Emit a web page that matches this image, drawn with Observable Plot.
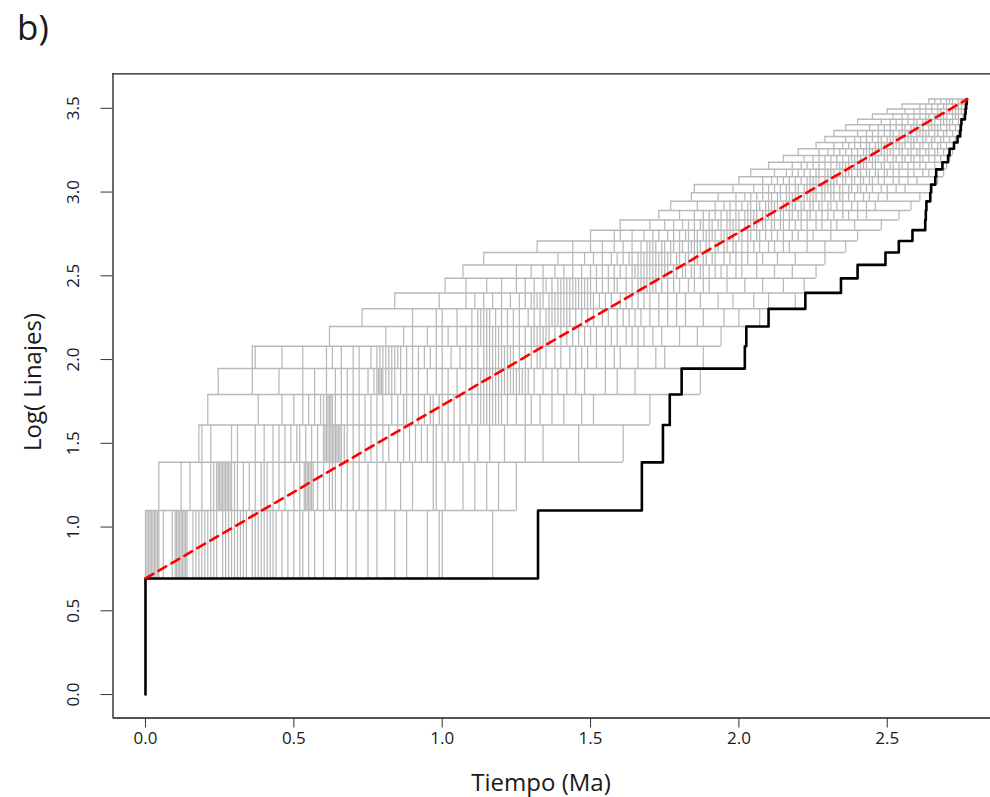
<!DOCTYPE html>
<html>
<head>
<meta charset="utf-8">
<script src="https://cdn.jsdelivr.net/npm/d3@7"></script>
<script src="https://cdn.jsdelivr.net/npm/@observablehq/plot@0.6"></script>
<style>
  body { margin: 0; background: #fff; }
  #chart { position: relative; width: 990px; height: 797px; overflow: hidden; }
</style>
</head>
<body>
<div id="chart"></div>
<script>
// ---- tick labels / axis titles ----
const xTicks = [0, 0.5, 1.0, 1.5, 2.0, 2.5];
const yTicks = [0, 0.5, 1.0, 1.5, 2.0, 2.5, 3.0, 3.5];
const panelLabel = "b)";
const xTitle = "Tiempo (Ma)";
const yTitle = "Log( Linajes)";
const presentTime = 2.77;

// ---- observed LTT (black) ----
const obsLineages = [1,2,3,4,5,6,7,8,9,10,11,12,13,14,15,16,17,18,19,20,21,22,23,24,25,26,27,28,29,30,31,32,33,34,35];
const obsTimes = [0,0,1.323,1.673,1.744,1.767,1.807,2.020,2.025,2.100,2.224,2.344,2.400,2.494,2.539,2.585,2.628,2.630,2.632,2.645,2.648,2.662,2.665,2.686,2.705,2.710,2.725,2.737,2.746,2.748,2.750,2.762,2.764,2.766,2.768];

// ---- expected pure-birth line (red dashed) ----
const expectedTimes = [0, 2.77];
const expectedLineages = [2, 35];

// ---- simulated LTTs (gray): times at which the lineage count rises to each level ----
const simLevels = [3,4,5,6,7,8,9,10,11,12,13,14,15,16,17,18,19,20,21,22,23,24,25,26,27,28,29,30,31,32,33,34,35];
const simTimes = [
  [0.00,0.005,0.01,0.02,0.03,0.04,0.06,0.09,0.10,0.11,0.12,0.13,0.17,0.19,0.21,0.24,0.27,0.29,0.31,0.33,0.36,0.39,0.41,0.43,0.46,0.50,0.53,0.57,0.60,0.64,0.68,0.71,0.75,0.78,0.84,0.88,0.95,0.99,1.00,1.17,
   0.015,0.025,0.035,0.045,0.105,0.115,0.125,0.135,0.14,0.16,0.18,0.20,0.22,0.23,0.26,0.28,0.30,0.32,0.34,0.37,0.38,0.40,0.42,0.44,0.48,0.52,0.55],
  [0.045,0.12,0.15,0.19,0.24,0.25,0.26,0.27,0.28,0.30,0.33,0.39,0.41,0.45,0.50,0.54,0.55,0.56,0.62,0.66,0.70,0.75,0.81,0.86,0.90,0.97,0.98,1.01,1.07,1.11,1.15,1.19,1.25,
   0.22,0.23,0.245,0.255,0.265,0.275,0.285,0.29,0.31,0.35,0.37,0.40,0.43,0.47,0.52,0.535,0.545,0.555,0.565,0.58,0.60,0.63,0.64,0.68,0.72,0.78],
  [0.18,0.19,0.22,0.29,0.31,0.37,0.45,0.51,0.54,0.61,0.63,0.64,0.66,0.70,0.74,0.78,0.85,0.87,0.93,0.97,0.98,1.02,1.06,1.12,1.16,1.21,1.28,1.34,1.46,1.61,
   0.40,0.43,0.47,0.49,0.52,0.56,0.58,0.60,0.605,0.615,0.62,0.625,0.635,0.645,0.65,0.655,0.67,0.68,0.72,0.76,0.80,0.82,0.89,0.91,0.95,1.00,1.04,1.09],
  [0.21,0.38,0.46,0.53,0.60,0.61,0.62,0.66,0.74,0.78,0.85,0.90,0.92,0.97,1.00,1.06,1.12,1.15,1.16,1.18,1.20,1.25,1.30,1.37,1.41,1.47,1.51,1.70,
   0.50,0.55,0.57,0.59,0.615,0.625,0.63,0.64,0.68,0.70,0.72,0.76,0.80,0.83,0.87,0.88,0.94,0.96,0.99,1.02,1.04,1.08,1.10,1.13,1.14,1.17,1.19,1.22,1.28,1.33],
  [0.245,0.36,0.45,0.53,0.61,0.66,0.68,0.75,0.78,0.79,0.81,0.86,0.90,0.95,1.00,1.05,1.10,1.13,1.15,1.18,1.22,1.24,1.27,1.29,1.34,1.42,1.48,1.55,1.59,1.65,1.87,
   0.57,0.64,0.70,0.72,0.77,0.785,0.795,0.80,0.82,0.83,0.84,0.88,0.92,0.98,1.02,1.08,1.12,1.14,1.16,1.17,1.19,1.20,1.21,1.23,1.25,1.26,1.28,1.31,1.37,1.39,1.45],
  [0.36,0.37,0.46,0.53,0.61,0.63,0.66,0.72,0.79,0.80,0.81,0.84,0.86,0.90,0.94,0.98,1.03,1.06,1.10,1.14,1.16,1.20,1.24,1.30,1.33,1.38,1.45,1.49,1.55,1.60,1.66,1.72,1.75,1.88,
   0.70,0.76,0.78,0.82,0.83,0.85,0.88,0.92,0.96,1.00,1.08,1.12,1.15,1.17,1.18,1.19,1.21,1.22,1.23,1.26,1.28,1.32,1.35,1.40,1.43,1.47,1.52,1.58],
  [0.62,0.81,0.87,0.95,0.98,1.02,1.08,1.12,1.13,1.15,1.17,1.20,1.26,1.31,1.32,1.36,1.42,1.46,1.50,1.55,1.59,1.64,1.68,1.74,1.80,1.86,1.94,
   0.90,1.00,1.05,1.10,1.14,1.16,1.18,1.19,1.22,1.24,1.28,1.30,1.33,1.34,1.35,1.38,1.40,1.44,1.48,1.52,1.57,1.62,1.66,1.71],
  [0.73,0.90,0.98,1.00,1.12,1.14,1.16,1.20,1.24,1.29,1.31,1.35,1.38,1.40,1.42,1.49,1.54,1.59,1.65,1.70,1.76,1.82,1.88,1.95,2.00,2.07,
   1.05,1.10,1.13,1.15,1.18,1.22,1.26,1.33,1.36,1.37,1.39,1.41,1.43,1.45,1.47,1.51,1.56,1.61,1.63,1.67,1.73,1.79],
  [0.84,0.99,1.08,1.14,1.20,1.26,1.30,1.32,1.36,1.38,1.41,1.43,1.46,1.49,1.51,1.57,1.60,1.62,1.66,1.70,1.76,1.82,1.87,1.93,1.98,2.05,2.10,2.19,
   1.11,1.17,1.23,1.28,1.31,1.33,1.34,1.37,1.39,1.40,1.42,1.44,1.45,1.47,1.48,1.50,1.53,1.55,1.64,1.68,1.73,1.79],
  [1.01,1.08,1.15,1.25,1.28,1.34,1.37,1.40,1.43,1.45,1.47,1.50,1.54,1.59,1.64,1.67,1.69,1.72,1.76,1.80,1.85,1.90,1.96,2.02,2.08,2.15,2.22,
   1.20,1.31,1.35,1.39,1.41,1.42,1.44,1.46,1.48,1.49,1.52,1.56,1.58,1.62,1.66,1.68,1.70,1.71,1.74,1.78,1.83,1.88],
  [1.07,1.25,1.34,1.41,1.47,1.50,1.56,1.60,1.64,1.67,1.69,1.71,1.73,1.76,1.79,1.82,1.85,1.88,1.92,1.96,2.01,2.06,2.12,2.18,2.26,
   1.30,1.38,1.44,1.52,1.54,1.58,1.62,1.65,1.66,1.68,1.70,1.72,1.74,1.75,1.78,1.81,1.84,1.87,1.90,1.94,1.99],
  [1.14,1.39,1.48,1.54,1.59,1.64,1.67,1.69,1.72,1.74,1.77,1.80,1.83,1.86,1.89,1.92,1.95,1.99,2.03,2.08,2.13,2.19,2.29,
   1.44,1.51,1.57,1.61,1.63,1.66,1.68,1.70,1.71,1.73,1.75,1.76,1.79,1.82,1.85,1.88,1.91,1.97,2.01,2.06],
  [1.32,1.44,1.50,1.58,1.64,1.69,1.72,1.75,1.78,1.81,1.84,1.87,1.90,1.93,1.96,1.99,2.03,2.07,2.12,2.17,2.23,2.29,2.36,
   1.54,1.61,1.67,1.70,1.71,1.74,1.77,1.80,1.83,1.85,1.86,1.89,1.92,1.95,1.98,2.01,2.05,2.10,2.15],
  [1.50,1.58,1.60,1.68,1.71,1.76,1.80,1.83,1.86,1.89,1.92,1.95,1.98,2.01,2.04,2.07,2.11,2.15,2.20,2.25,2.31,2.40,
   1.64,1.73,1.78,1.82,1.85,1.88,1.90,1.91,1.94,1.96,1.97,2.00,2.03,2.06,2.09,2.13,2.18,2.23],
  [1.60,1.70,1.75,1.81,1.85,1.88,1.91,1.94,1.97,2.00,2.03,2.06,2.09,2.12,2.15,2.19,2.23,2.28,2.33,2.39,2.48,
   1.78,1.83,1.87,1.90,1.93,1.96,1.98,1.99,2.02,2.04,2.05,2.08,2.11,2.14,2.17,2.21,2.26,2.31],
  [1.73,1.80,1.85,1.90,1.94,1.97,2.00,2.03,2.06,2.09,2.12,2.15,2.18,2.21,2.24,2.28,2.32,2.37,2.43,2.54,
   1.88,1.92,1.96,1.99,2.02,2.04,2.05,2.08,2.10,2.11,2.14,2.17,2.20,2.23,2.26,2.30,2.35,2.40],
  [1.77,1.86,1.92,1.97,2.01,2.04,2.07,2.10,2.13,2.16,2.19,2.22,2.25,2.28,2.31,2.35,2.40,2.46,2.58,
   1.95,1.99,2.03,2.06,2.09,2.11,2.12,2.15,2.17,2.18,2.21,2.24,2.27,2.30,2.33,2.38,2.43],
  [1.84,1.93,1.99,2.04,2.08,2.11,2.14,2.17,2.20,2.23,2.26,2.29,2.32,2.35,2.39,2.44,2.50,2.61,
   2.02,2.06,2.10,2.13,2.16,2.18,2.19,2.22,2.24,2.25,2.28,2.31,2.34,2.37,2.42,2.47],
  [1.85,1.98,2.05,2.10,2.14,2.17,2.20,2.23,2.26,2.29,2.32,2.35,2.38,2.41,2.45,2.50,2.56,2.645,
   2.08,2.12,2.16,2.19,2.22,2.24,2.25,2.28,2.30,2.31,2.34,2.37,2.40,2.43,2.48,2.53],
  [2.00,2.08,2.13,2.17,2.21,2.24,2.27,2.30,2.33,2.36,2.39,2.42,2.45,2.49,2.54,2.60,2.67,
   2.11,2.15,2.19,2.23,2.25,2.26,2.29,2.31,2.32,2.35,2.38,2.41,2.44,2.47,2.52,2.57],
  [2.04,2.12,2.18,2.22,2.26,2.29,2.32,2.35,2.38,2.41,2.44,2.47,2.50,2.54,2.59,2.64,2.69,
   2.16,2.20,2.24,2.27,2.30,2.31,2.34,2.36,2.37,2.40,2.43,2.46,2.49,2.52,2.57,2.62],
  [2.10,2.18,2.23,2.27,2.31,2.34,2.37,2.40,2.43,2.46,2.49,2.52,2.55,2.59,2.63,2.70,
   2.21,2.25,2.29,2.33,2.35,2.36,2.39,2.41,2.42,2.45,2.48,2.51,2.54,2.57,2.61,2.66],
  [2.15,2.22,2.27,2.31,2.35,2.38,2.41,2.44,2.47,2.50,2.53,2.56,2.59,2.62,2.66,2.71,
   2.25,2.29,2.33,2.37,2.39,2.40,2.43,2.45,2.46,2.49,2.52,2.55,2.58,2.61,2.64,2.68],
  [2.20,2.27,2.32,2.36,2.40,2.43,2.46,2.49,2.52,2.55,2.58,2.61,2.64,2.67,2.72,
   2.30,2.34,2.38,2.42,2.44,2.45,2.48,2.50,2.51,2.54,2.57,2.60,2.63,2.66,2.69],
  [2.26,2.32,2.37,2.41,2.44,2.47,2.50,2.53,2.56,2.59,2.62,2.65,2.68,2.725,
   2.35,2.39,2.43,2.46,2.48,2.49,2.52,2.54,2.55,2.58,2.61,2.64,2.67,2.70],
  [2.29,2.36,2.41,2.45,2.48,2.51,2.54,2.57,2.60,2.63,2.66,2.69,2.73,
   2.39,2.43,2.47,2.50,2.52,2.53,2.56,2.58,2.59,2.62,2.65,2.68,2.71],
  [2.32,2.40,2.45,2.49,2.52,2.55,2.58,2.61,2.64,2.67,2.70,2.74,
   2.43,2.47,2.51,2.54,2.56,2.57,2.60,2.62,2.63,2.66,2.69,2.72],
  [2.36,2.44,2.49,2.53,2.56,2.59,2.62,2.65,2.68,2.71,2.745,
   2.47,2.51,2.55,2.58,2.60,2.61,2.64,2.66,2.67,2.70,2.73],
  [2.40,2.48,2.53,2.57,2.60,2.63,2.66,2.69,2.72,2.75,
   2.51,2.55,2.59,2.62,2.64,2.65,2.68,2.70,2.71,2.74],
  [2.45,2.52,2.57,2.61,2.64,2.67,2.70,2.73,2.755,
   2.55,2.59,2.63,2.66,2.68,2.69,2.72,2.74],
  [2.50,2.56,2.61,2.65,2.68,2.71,2.74,2.76,
   2.59,2.63,2.67,2.70,2.72,2.73,2.75],
  [2.55,2.61,2.65,2.69,2.72,2.75,2.765,
   2.63,2.67,2.70,2.73,2.74,2.76],
  [2.64,2.68,2.71,2.74,2.77,
   2.66,2.70,2.72,2.75,2.76]
];

// ---- build tables for the library ----
const obsData = obsTimes.map((t, i) => ({t, y: Math.log(obsLineages[i])}));
const expData = expectedTimes.map((t, i) => ({t, y: Math.log(expectedLineages[i])}));

const simVertical = [];
simLevels.forEach((n, i) => {
  simTimes[i].forEach(t => simVertical.push({t, y1: Math.log(n - 1), y2: Math.log(n)}));
});
const simHorizontal = [];
const allLevels = [2, ...simLevels];
allLevels.forEach(n => {
  const idxIn = simLevels.indexOf(n);
  const idxOut = simLevels.indexOf(n + 1);
  const x1 = idxIn < 0 ? 0 : d3.min(simTimes[idxIn]);
  const x2 = idxOut < 0 ? presentTime : d3.max(simTimes[idxOut]);
  simHorizontal.push({y: Math.log(n), x1, x2});
});

const xDomain = [-0.1095, 2.848];
const yDomain = [-0.140, 3.706];
const font = "'Open Sans', 'DejaVu Sans', sans-serif";
const simColor = "#b9b9b9";

const chart = Plot.plot({
  width: 990,
  height: 797,
  marginLeft: 112.5,
  marginRight: 0,
  marginTop: 73.3,
  marginBottom: 79.5,
  style: {fontFamily: font, background: "#fff", color: "#1a1a1a"},
  x: {domain: xDomain},
  y: {domain: yDomain},
  marks: [
    Plot.ruleX(simVertical, {x: "t", y1: "y1", y2: "y2", stroke: simColor, strokeWidth: 1.25}),
    Plot.ruleY(simHorizontal, {y: "y", x1: "x1", x2: "x2", stroke: simColor, strokeWidth: 1.5}),
    Plot.line(obsData, {x: "t", y: "y", curve: "step-after", stroke: "#000", strokeWidth: 2.6}),
    Plot.line(expData, {x: "t", y: "y", stroke: "#ff0000", strokeWidth: 2.6, strokeDasharray: "9,6"}),
    Plot.ruleY([yDomain[0], yDomain[1]], {stroke: "#1a1a1a", strokeWidth: 1.3}),
    Plot.ruleX([xDomain[0]], {stroke: "#1a1a1a", strokeWidth: 1.3}),
    Plot.axisX({ticks: xTicks, tickSize: 10, tickPadding: 4, tickFormat: d3.format(".1f"), fontSize: 17, label: null, stroke: "#333"}),
    Plot.axisY({ticks: yTicks, tickSize: 12, tickPadding: 22, tickRotate: -90, tickFormat: d3.format(".1f"), fontSize: 17, label: null, stroke: "#333"})
  ]
});
document.getElementById("chart").appendChild(chart);

const svg = d3.select(chart);
svg.append("text").text(panelLabel)
  .attr("x", 17).attr("y", 40)
  .attr("text-anchor", "start")
  .attr("font-size", 35).attr("font-family", font).attr("fill", "#1a1a1a");
svg.append("text").text(xTitle)
  .attr("x", 541).attr("y", 791)
  .attr("text-anchor", "middle")
  .attr("font-size", 24).attr("font-family", font).attr("fill", "#1a1a1a");
svg.append("text").text(yTitle)
  .attr("transform", "translate(41,382) rotate(-90)")
  .attr("text-anchor", "middle")
  .attr("font-size", 24).attr("font-family", font).attr("fill", "#1a1a1a");
</script>
</body>
</html>
